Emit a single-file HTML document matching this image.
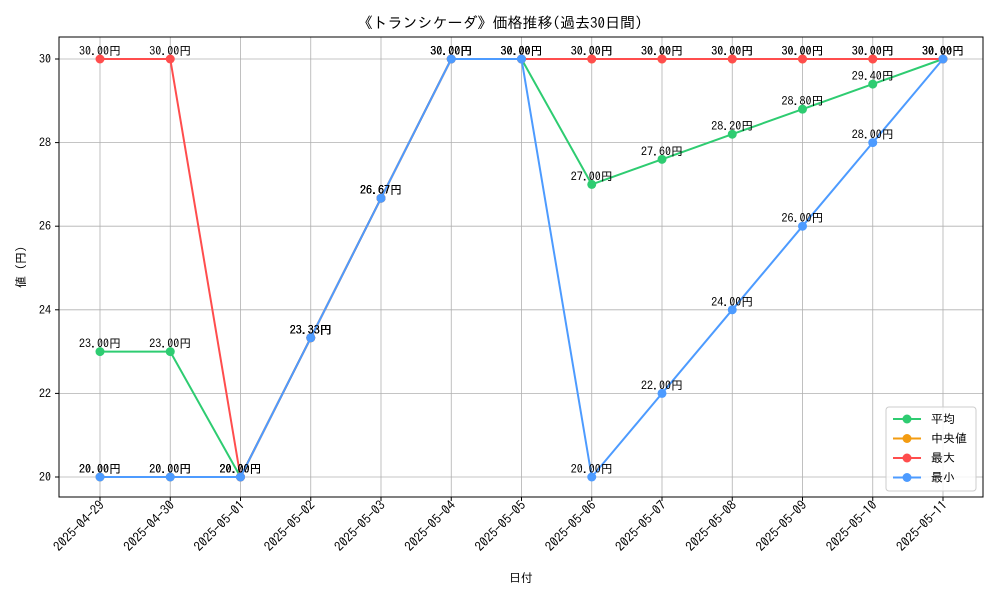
<!DOCTYPE html>
<html><head><meta charset="utf-8"><style>
body{margin:0;background:#fff;}
svg{font-family:"IPAGothic","Noto Sans CJK JP",sans-serif;}
</style></head><body>
<svg id="c" width="1000" height="600" xmlns="http://www.w3.org/2000/svg"></svg>
<script>
const categories=["2025-04-29","2025-04-30","2025-05-01","2025-05-02","2025-05-03","2025-05-04","2025-05-05","2025-05-06","2025-05-07","2025-05-08","2025-05-09","2025-05-10","2025-05-11"];
const avgValues=[23,23,20,23.33,26.67,30,30,27,27.6,28.2,28.8,29.4,30];
const medianValues=[20,20,20,23.33,26.67,30,30,30,30,30,30,30,30];
const maxValues=[30,30,20,23.33,26.67,30,30,30,30,30,30,30,30];
const minValues=[20,20,20,23.33,26.67,30,30,20,22,24,26,28,30];
const yTicks=[20,22,24,26,28,30];
const seriesNames=["平均","中央値","最大","最小"];
const colors=["#2ecc71","#f39c12","#ff4d4d","#4d9bff"];

const svg=document.getElementById('c');
const NS="http://www.w3.org/2000/svg";
const L=59,R=983,T=37,B=497;
const x=i=>100+i*(943-100)/(categories.length-1);
const y=v=>477-(v-20)*(477-59)/10;
function el(t,a,p){const e=document.createElementNS(NS,t);for(const k in a)e.setAttribute(k,a[k]);(p||svg).appendChild(e);return e;}

const title=el('text',{x:500,y:28,'text-anchor':'middle','font-size':15});
title.textContent="《トランシケーダ》価格推移(過去30日間)";



const grid=el('g',{});


categories.forEach((c,i)=>{
  el('line',{x1:x(i),x2:x(i),y1:T,y2:B,stroke:'#b0b0b0','stroke-width':0.8},grid);
  el('line',{x1:x(i),x2:x(i),y1:B,y2:B+4,stroke:'#000'});
  const t=el('text',{x:0,y:0,'font-size':13,'text-anchor':'end',transform:`translate(${x(i)+5},${B+9}) rotate(-45)`});
  t.textContent=c;
  
  
});
yTicks.forEach(v=>{
  el('line',{x1:L,x2:R,y1:y(v),y2:y(v),stroke:'#b0b0b0','stroke-width':0.8},grid);
  el('line',{x1:L-4,x2:L,y1:y(v),y2:y(v),stroke:'#000'});
  const t=el('text',{x:L-8,y:y(v)+4,'font-size':12,'text-anchor':'end'});
  t.textContent=v;
  
  
});
const frame=el('rect',{x:L,y:T,width:R-L,height:B-T,fill:'none',stroke:'#000','stroke-width':1});



const xt=el('text',{x:521,y:582,'font-size':12,'text-anchor':'middle'});xt.textContent="日付";


const yt=el('text',{x:0,y:0,'font-size':12,'text-anchor':'middle',transform:'translate(25,267) rotate(-90)'});yt.textContent="値 (円)";



[avgValues,medianValues,maxValues,minValues].forEach((vals,s)=>{
  const g=el('g',{});
  
  
  el('polyline',{points:vals.map((v,i)=>x(i)+','+y(v)).join(' '),fill:'none',stroke:colors[s],'stroke-width':2},g);
  vals.forEach((v,i)=>{
    const p=el('circle',{cx:x(i),cy:y(v),r:4.5,fill:colors[s]},g);
    
    
    const t=el('text',{x:x(i),y:y(v)-4,'font-size':12,'text-anchor':'middle'},g);
    t.textContent=v.toFixed(2)+"円";
    
    
  });
});

const lg=el('g',{});


el('rect',{x:886,y:407,width:90,height:84,rx:3,fill:'#fff','fill-opacity':0.85,stroke:'#ccc'},lg);
seriesNames.forEach((n,s)=>{
  const yy=419+s*19.5;
  const e=el('g',{},lg);
  
  
  el('line',{x1:893,x2:921,y1:yy,y2:yy,stroke:colors[s],'stroke-width':2},e);
  el('circle',{cx:907,cy:yy,r:4.5,fill:colors[s]},e);
  const t=el('text',{x:931,y:yy+4,'font-size':12},e);t.textContent=n;
});
</script>
</body></html>
